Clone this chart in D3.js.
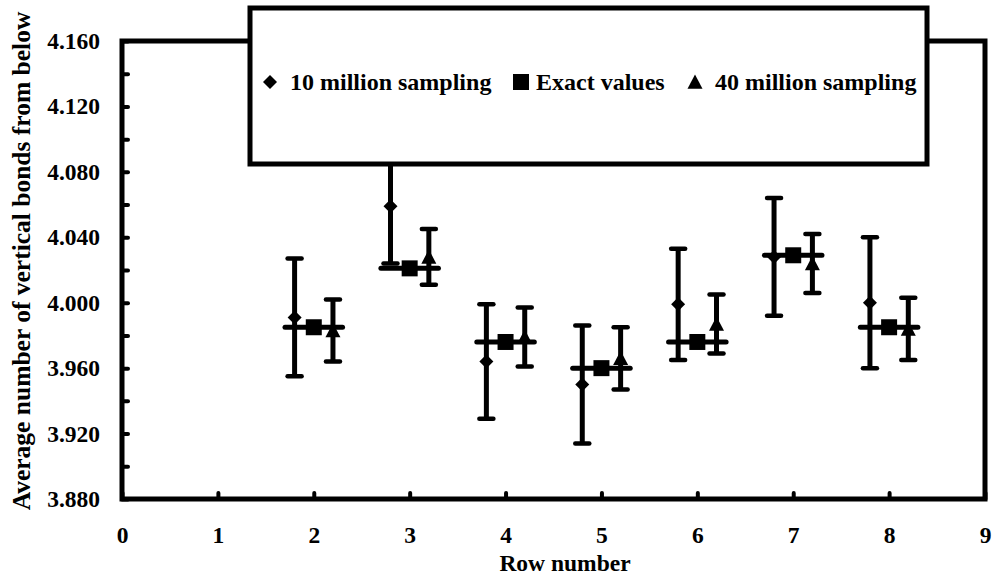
<!DOCTYPE html>
<html>
<head>
<meta charset="utf-8">
<script src="https://cdn.jsdelivr.net/npm/d3@7"></script>
<style>
  html, body { margin: 0; padding: 0; background: white; }
  svg text { font-family: "Liberation Serif", "Times New Roman", serif; font-weight: bold; fill: black; }
</style>
</head>
<body>
<div id="chart"></div>
<script>
// Dades llegides del gràfic
const rows = [2, 3, 4, 5, 6, 7, 8];
const sample10 = [3.991, 4.059, 3.964, 3.950, 3.999, 4.028, 4.000];
const sample10Err = [0.036, 0.035, 0.035, 0.036, 0.034, 0.036, 0.040];
const exact = [3.985, 4.021, 3.976, 3.960, 3.976, 4.029, 3.985];
const exactXErr = 0.3;
const sample40 = [3.983, 4.028, 3.979, 3.966, 3.987, 4.024, 3.984];
const sample40Err = [0.019, 0.017, 0.018, 0.019, 0.018, 0.018, 0.019];
const xTicks = [0, 1, 2, 3, 4, 5, 6, 7, 8, 9];
const yTicks = [3.88, 3.90, 3.92, 3.94, 3.96, 3.98, 4.00, 4.02, 4.04, 4.06, 4.08, 4.10, 4.12, 4.14, 4.16];
const legendLabels = ["10 million sampling", "Exact values", "40 million sampling"];

// Dimensions i marges
const W = 994, H = 583;
const margin = { top: 41, right: 9, bottom: 84, left: 122 };
const width = W - margin.left - margin.right;
const height = H - margin.top - margin.bottom;

const svg = d3.select("#chart")
    .append("svg")
        .attr("width", W)
        .attr("height", H);

const g = svg.append("g")
    .attr("transform", `translate(${margin.left}, ${margin.top})`);

// Escales
const x = d3.scaleLinear().domain([0, 9]).range([0, width]);
const y = d3.scaleLinear().domain([3.88, 4.16]).range([height, 0]);

// Formes dels marcadors
function diamond(s) { return `M0,${-s}L${s},0L0,${s}L${-s},0Z`; }
function square(s) { return `M${-s},${-s}H${s}V${s}H${-s}Z`; }
function triangle(s) { return `M0,${-s}L${s},${s * 0.9}L${-s},${s * 0.9}Z`; }

// Barres d'error verticals amb extrems
function errorBars(vals, errs, off) {
    const cap = 7;
    rows.forEach(function(r, i) {
        const cx = x(r + off);
        const yTop = y(vals[i] + errs[i]);
        const yBot = y(vals[i] - errs[i]);
        g.append("line")
            .attr("x1", cx).attr("x2", cx)
            .attr("y1", yTop).attr("y2", yBot)
            .attr("stroke", "black").attr("stroke-width", 5);
        [yTop, yBot].forEach(function(yy) {
            g.append("line")
                .attr("x1", cx - cap).attr("x2", cx + cap)
                .attr("y1", yy).attr("y2", yy)
                .attr("stroke", "black").attr("stroke-width", 4.5)
                .attr("stroke-linecap", "round");
        });
    });
}

errorBars(sample10, sample10Err, -0.2);
errorBars(sample40, sample40Err, 0.2);

// Barres horitzontals dels valors exactes
g.selectAll(".exact-bar")
    .data(rows)
    .enter()
    .append("line")
        .attr("x1", d => x(d - exactXErr))
        .attr("x2", d => x(d + exactXErr))
        .attr("y1", (d, i) => y(exact[i]))
        .attr("y2", (d, i) => y(exact[i]))
        .attr("stroke", "black")
        .attr("stroke-width", 5)
        .attr("stroke-linecap", "round");

// Marcadors
g.selectAll(".dot-10")
    .data(rows)
    .enter()
    .append("path")
        .attr("d", diamond(7))
        .attr("transform", (d, i) => `translate(${x(d - 0.2)}, ${y(sample10[i])})`)
        .attr("fill", "black");

g.selectAll(".dot-exact")
    .data(rows)
    .enter()
    .append("path")
        .attr("d", square(8))
        .attr("transform", (d, i) => `translate(${x(d)}, ${y(exact[i])})`)
        .attr("fill", "black");

g.selectAll(".dot-40")
    .data(rows)
    .enter()
    .append("path")
        .attr("d", triangle(7.5))
        .attr("transform", (d, i) => `translate(${x(d + 0.2)}, ${y(sample40[i])})`)
        .attr("fill", "black");

// Eixos amb marques cap a dins
const yAxis = g.append("g")
    .call(d3.axisLeft(y)
        .tickValues(yTicks)
        .tickSizeInner(-6)
        .tickSizeOuter(0)
        .tickPadding(22)
        .tickFormat((d, i) => i % 2 === 0 ? d3.format(".3f")(d) : ""));

const xAxis = g.append("g")
    .attr("transform", `translate(0, ${height})`)
    .call(d3.axisBottom(x)
        .tickValues(xTicks)
        .tickSizeInner(-6)
        .tickSizeOuter(0)
        .tickPadding(27)
        .tickFormat(d3.format("d")));

[yAxis, xAxis].forEach(function(ax) {
    ax.select(".domain").remove();
    ax.selectAll(".tick line")
        .attr("stroke", "black")
        .attr("stroke-width", 4)
        .attr("stroke-linecap", "round");
    ax.selectAll(".tick text")
        .style("font-size", "23.5px")
        .style("font-family", "'Liberation Serif', serif")
        .style("font-weight", "bold")
        .attr("fill", "black");
});

// Marc del gràfic
g.append("rect")
    .attr("x", 0).attr("y", 0)
    .attr("width", width).attr("height", height)
    .attr("fill", "none")
    .attr("stroke", "black")
    .attr("stroke-width", 5);

// Llegenda
const legend = svg.append("g")
    .attr("transform", "translate(250, 8)");

legend.append("rect")
    .attr("width", 677)
    .attr("height", 156)
    .attr("fill", "white")
    .attr("stroke", "black")
    .attr("stroke-width", 5);

const legendShapes = [diamond(7), square(8), triangle(7.5)];
const legendX = [20, 271, 445];

legendLabels.forEach(function(lab, i) {
    legend.append("path")
        .attr("d", legendShapes[i])
        .attr("transform", `translate(${legendX[i]}, 74)`)
        .attr("fill", "black");
    legend.append("text")
        .attr("x", legendX[i] + (i === 1 ? 15 : 20))
        .attr("y", 82)
        .style("font-size", "24px")
        .text(lab);
});

// Títols dels eixos
svg.append("text")
    .attr("x", 565)
    .attr("y", 571)
    .attr("text-anchor", "middle")
    .style("font-size", "23.5px")
    .text("Row number");

svg.append("text")
    .attr("transform", `translate(30, ${margin.top + height / 2 - 9}) rotate(-90)`)
    .attr("text-anchor", "middle")
    .style("font-size", "25.5px")
    .text("Average number of vertical bonds from below");
</script>
</body>
</html>
